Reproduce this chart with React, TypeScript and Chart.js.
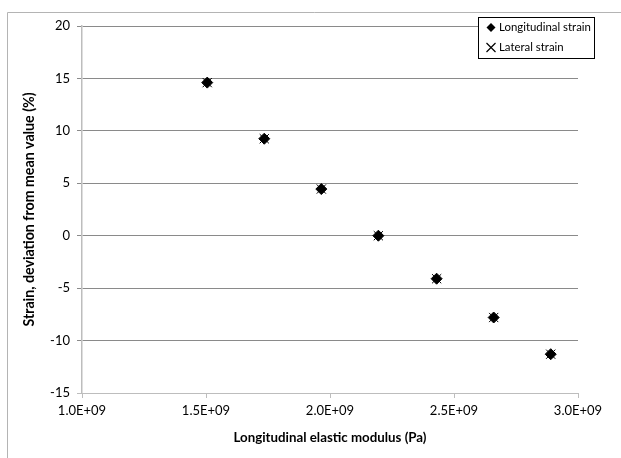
import React, { useEffect, useRef } from "react";
import { Chart, registerables } from "chart.js";

Chart.register(...registerables);

// ---- data ----
const modulusPa = [1.505e9, 1.735e9, 1.965e9, 2.195e9, 2.43e9, 2.66e9, 2.89e9];
const longitudinalStrain = [14.6, 9.25, 4.45, 0.0, -4.1, -7.8, -11.3];
const lateralStrain = [14.6, 9.25, 4.45, 0.0, -4.1, -7.8, -11.3];
const seriesNames = ["Longitudinal strain", "Lateral strain"];
const xTitle = "Longitudinal elastic modulus (Pa)";
const yTitle = "Strain, deviation from mean value (%)";
const xRange = [1.0e9, 3.0e9];
const xStep = 0.5e9;
const yRange = [-15, 20];
const yStep = 5;

const FONT = "Lato, 'Liberation Sans', sans-serif";
const GRID = "#8a8a8a";
const AXIS = "#bdbdbd";

function fmtSci(v: number): string {
  const [m, e] = v.toExponential(1).split("e");
  const n = parseInt(e, 10);
  const sign = n < 0 ? "-" : "+";
  const abs = Math.abs(n).toString().padStart(2, "0");
  return `${m}E${sign}${abs}`;
}

const framePlugin = {
  id: "frame",
  beforeDraw(chart: any) {
    const { ctx, width, height } = chart;
    ctx.save();
    ctx.fillStyle = "#ffffff";
    ctx.fillRect(0, 0, width, height);
    ctx.strokeStyle = "#b4b4b4";
    ctx.lineWidth = 1;
    ctx.beginPath();
    ctx.moveTo(7.5, height);
    ctx.lineTo(7.5, 12.5);
    ctx.lineTo(width, 12.5);
    ctx.stroke();
    ctx.restore();
  },
};

function drawDiamond(ctx: CanvasRenderingContext2D, x: number, y: number, r: number) {
  ctx.beginPath();
  ctx.moveTo(x, y - r);
  ctx.lineTo(x + r, y);
  ctx.lineTo(x, y + r);
  ctx.lineTo(x - r, y);
  ctx.closePath();
  ctx.fill();
}

function drawCross(ctx: CanvasRenderingContext2D, x: number, y: number, r: number) {
  ctx.beginPath();
  ctx.moveTo(x - r, y - r);
  ctx.lineTo(x + r, y + r);
  ctx.moveTo(x + r, y - r);
  ctx.lineTo(x - r, y + r);
  ctx.stroke();
}

const legendPlugin = {
  id: "insideLegend",
  afterDraw(chart: any) {
    const { ctx, chartArea } = chart;
    const right = chartArea.right + 16;
    const left = right - 116;
    const top = chartArea.top - 9;
    const h = 41;
    ctx.save();
    ctx.fillStyle = "#ffffff";
    ctx.fillRect(left, top, right - left, h);
    ctx.strokeStyle = "#000000";
    ctx.lineWidth = 1;
    ctx.strokeRect(left + 0.5, top + 0.5, right - left, h);
    ctx.font = `11.4px ${FONT}`;
    ctx.textBaseline = "middle";
    ctx.textAlign = "left";
    const names = chart.data.datasets.map((d: any) => d.label);
    const rows = [top + 10.5, top + 30.5];
    ctx.fillStyle = "#000000";
    drawDiamond(ctx, left + 13, rows[0], 4.5);
    ctx.fillText(names[0], left + 21, rows[0]);
    ctx.strokeStyle = "#000000";
    ctx.lineWidth = 1.2;
    drawCross(ctx, left + 13, rows[1], 4.5);
    ctx.fillText(names[1], left + 21, rows[1]);
    ctx.restore();
  },
};

export default function App() {
  const ref = useRef<HTMLCanvasElement | null>(null);

  useEffect(() => {
    if (!ref.current) return;
    const chart = new Chart(ref.current, {
      type: "scatter",
      data: {
        datasets: [
          {
            label: seriesNames[0],
            data: modulusPa.map((x, i) => ({ x, y: longitudinalStrain[i] })),
            pointStyle: "rectRot",
            pointRadius: 5.5,
            backgroundColor: "#000000",
            borderColor: "#000000",
            borderWidth: 1,
          },
          {
            label: seriesNames[1],
            data: modulusPa.map((x, i) => ({ x, y: lateralStrain[i] })),
            pointStyle: "crossRot",
            pointRadius: 6.5,
            backgroundColor: "#000000",
            borderColor: "#000000",
            borderWidth: 1,
          },
        ],
      },
      options: {
        animation: false,
        responsive: false,
        devicePixelRatio: 1,
        layout: { padding: { left: 0, right: 43, top: 26, bottom: 0 } },
        plugins: {
          legend: { display: false },
          tooltip: { enabled: false },
        },
        scales: {
          x: {
            type: "linear",
            min: xRange[0],
            max: xRange[1],
            afterFit: (s: any) => {
              s.height = 65;
            },
            ticks: {
              stepSize: xStep,
              color: "#000000",
              font: { family: FONT, size: 13 },
              padding: 5,
              maxRotation: 0,
              callback: (v: any) => fmtSci(Number(v)),
            },
            grid: {
              drawOnChartArea: false,
              drawTicks: true,
              tickLength: 5,
              color: AXIS,
            },
            border: { color: AXIS, width: 1 },
            title: {
              display: true,
              text: xTitle,
              color: "#000000",
              font: { family: FONT, size: 13.3, weight: "bold" },
              padding: { top: 0, bottom: 12 },
            },
          },
          y: {
            type: "linear",
            min: yRange[0],
            max: yRange[1],
            afterFit: (s: any) => {
              s.width = 82;
            },
            ticks: {
              stepSize: yStep,
              color: "#000000",
              font: { family: FONT, size: 13 },
              padding: 7,
            },
            grid: {
              drawTicks: true,
              tickLength: 5,
              color: (c: any) => (c.tick && c.tick.value === yRange[0] ? AXIS : GRID),
            },
            border: { color: AXIS, width: 1.5 },
            title: {
              display: true,
              text: yTitle,
              color: "#000000",
              font: { family: FONT, size: 14.2, weight: "bold" },
              padding: { top: 21, bottom: 0 },
            },
          },
        },
      } as any,
      plugins: [framePlugin, legendPlugin],
    });
    return () => chart.destroy();
  }, []);

  return (
    <div style={{ position: "fixed", left: 0, top: 0, width: 621, height: 458, background: "#fff" }}>
      <canvas ref={ref} width={621} height={458} style={{ width: 621, height: 458 }} />
    </div>
  );
}
